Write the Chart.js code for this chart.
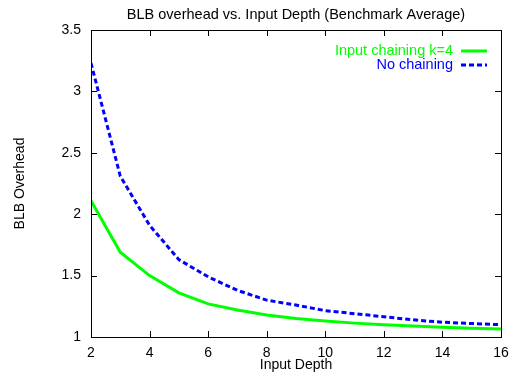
<!DOCTYPE html>
<html>
<head>
<meta charset="utf-8">
<script src="https://cdn.jsdelivr.net/npm/chart.js@4.4.1/dist/chart.umd.min.js"></script>
<style>
  html, body { margin: 0; padding: 0; background: #fff; }
  #wrap { width: 510px; height: 374px; }
</style>
</head>
<body>
<div id="wrap"><canvas id="blbChart" width="510" height="374"></canvas></div>
<script>
// ── Dati ─────────────────────────────────────────────────────
const titolo = 'BLB overhead vs. Input Depth (Benchmark Average)';
const profondita = [2, 3, 4, 5, 6, 7, 8, 9, 10, 11, 12, 13, 14, 15, 16];
const inputChaining = [2.11, 1.69, 1.50, 1.36, 1.27, 1.22, 1.18, 1.15, 1.13, 1.113, 1.10, 1.09, 1.08, 1.072, 1.066];
const noChaining = [3.23, 2.31, 1.91, 1.63, 1.49, 1.38, 1.30, 1.26, 1.215, 1.19, 1.165, 1.14, 1.12, 1.11, 1.10];
const tickX = [2, 4, 6, 8, 10, 12, 14, 16];
const tickY = [1, 1.5, 2, 2.5, 3, 3.5];

const FONT = '"Liberation Sans", Arial, Helvetica, sans-serif';

// cornice, tacche interne, titolo e legenda stile gnuplot
const cornice = {
    id: 'cornice',
    afterDatasetsDraw(chart) {
        const c = chart.ctx;
        const a = chart.chartArea;
        const sx = chart.scales.x, sy = chart.scales.y;
        const L = 6;
        c.save();
        c.strokeStyle = '#000';
        c.lineWidth = 1;
        c.strokeRect(Math.round(a.left) + 0.5, Math.round(a.top) + 0.5,
            Math.round(a.right - a.left), Math.round(a.bottom - a.top));
        c.beginPath();
        tickX.forEach(v => {
            const px = Math.round(sx.getPixelForValue(v)) + 0.5;
            c.moveTo(px, a.bottom); c.lineTo(px, a.bottom - L);
            c.moveTo(px, a.top); c.lineTo(px, a.top + L);
        });
        tickY.forEach(v => {
            const py = Math.round(sy.getPixelForValue(v)) + 0.5;
            c.moveTo(a.left, py); c.lineTo(a.left + L, py);
            c.moveTo(a.right, py); c.lineTo(a.right - L, py);
        });
        c.stroke();

        // titolo centrato sull'area del grafico
        c.fillStyle = '#000';
        c.font = '14.5px ' + FONT;
        c.textAlign = 'center';
        c.textBaseline = 'middle';
        c.fillText(titolo, (a.left + a.right) / 2, 15);

        // legenda
        c.textAlign = 'right';
        chart.data.datasets.forEach((ds, i) => {
            const y = 51 + i * 14;
            c.fillStyle = ds.borderColor;
            c.fillText(ds.label, 453, y);
            c.beginPath();
            c.strokeStyle = ds.borderColor;
            c.lineWidth = ds.borderWidth;
            c.setLineDash(ds.borderDash || []);
            c.moveTo(461, y);
            c.lineTo(487, y);
            c.stroke();
        });
        c.restore();
    }
};

const ctx = document.getElementById('blbChart').getContext('2d');
const blbChart = new Chart(ctx, {
    type: 'line',
    data: {
        datasets: [
            {
                label: 'Input chaining k=4',
                data: profondita.map((x, i) => ({ x: x, y: inputChaining[i] })),
                borderColor: '#00ff00',
                borderWidth: 3,
                pointRadius: 0,
                tension: 0,
                fill: false
            },
            {
                label: 'No chaining',
                data: profondita.map((x, i) => ({ x: x, y: noChaining[i] })),
                borderColor: '#0000ff',
                borderWidth: 3,
                borderDash: [5, 3],
                pointRadius: 0,
                tension: 0,
                fill: false
            }
        ]
    },
    options: {
        responsive: false,
        animation: false,
        layout: { padding: { left: 0, right: 9, top: 30, bottom: 0 } },
        plugins: {
            legend: { display: false },
            tooltip: { enabled: false },
            title: { display: false }
        },
        scales: {
            x: {
                type: 'linear',
                min: 2, max: 16,
                afterBuildTicks: s => { s.ticks = tickX.map(v => ({ value: v })); },
                afterFit: s => { s.height = 37; s.paddingLeft = 0; s.paddingRight = 0; },
                grid: { display: false, drawTicks: false },
                border: { display: false },
                ticks: { color: '#000', padding: 8, font: { family: FONT, size: 14 } },
                title: {
                    display: true, text: 'Input Depth', color: '#000',
                    font: { family: FONT, size: 14 }, padding: 0
                }
            },
            y: {
                min: 1, max: 3.5,
                afterBuildTicks: s => { s.ticks = tickY.map(v => ({ value: v })); },
                afterFit: s => { s.width = 91; s.paddingTop = 0; s.paddingBottom = 0; },
                grid: { display: false, drawTicks: false },
                border: { display: false },
                ticks: {
                    color: '#000', padding: 10, font: { family: FONT, size: 14 },
                    callback: v => String(v)
                },
                title: {
                    display: true, text: 'BLB Overhead', color: '#000',
                    font: { family: FONT, size: 14 }, padding: { top: 12, bottom: 0 }
                }
            }
        }
    },
    plugins: [cornice]
});
</script>
</body>
</html>
